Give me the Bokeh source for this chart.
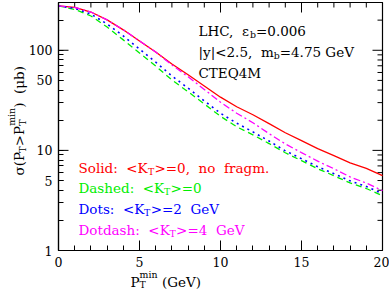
from bokeh.plotting import figure
from bokeh.models import Range1d, FixedTicker, Label
from bokeh.embed import file_html
from bokeh.resources import INLINE
import math

# ---------------- data ----------------
PT_MIN = list(range(0, 21))
SOLID = [277, 268, 241, 201, 160, 124, 96, 73, 57, 44, 34, 27.3, 22.7, 18.5, 15, 12.5, 10.4, 8.85, 7.5, 6.6, 5.6]
DASHED = [277, 256, 220, 171, 127, 94, 69.5, 50.5, 38.5, 29.1, 21.9, 17.2, 14.3, 11.7, 9.47, 7.89, 6.56, 5.58, 4.73, 4.16, 3.53]
DOTS = [277, 262, 230, 183, 139, 103, 76, 55.4, 41.8, 31.2, 23.5, 18.7, 15.3, 12.4, 9.9, 8.26, 6.87, 5.85, 4.96, 4.36, 3.70]
DOTDASH = [277, 268, 241, 201, 160, 124, 96, 71.3, 54.4, 40.6, 30.3, 23.5, 18.9, 14.7, 11.6, 9.5, 7.8, 6.56, 5.43, 4.72, 3.96]

X_MAJOR = [0, 5, 10, 15, 20]
X_MINOR = [1, 2, 3, 4, 6, 7, 8, 9, 11, 12, 13, 14, 16, 17, 18, 19]
Y_LABELLED = [1, 5, 10, 50, 100]
Y_DECADES = [1, 10, 100]
Y_MINOR = [2, 3, 4, 5, 6, 7, 8, 9, 20, 30, 40, 50, 60, 70, 80, 90, 200, 300]
X_LO, X_HI, Y_LO, Y_HI = 0, 20, 1, 300

RED, GREEN, BLUE, MAGENTA = "#ff0000", "#00ee00", "#0000ff", "#ff00ff"
FONT = "DejaVu Serif"
FS = 13.5
SP2 = " \u00a0"   # a visible double space

# ---------------- layout (canvas pixels) ----------------
W, H = 389, 291
BOX_L, BOX_R, BOX_T, BOX_B = 58, 382, 2, 250     # plotting box inside the canvas

ppx = (BOX_R - BOX_L) / (X_HI - X_LO)
ppd = (BOX_B - BOX_T) / (math.log10(Y_HI) - math.log10(Y_LO))
x_start = X_LO - BOX_L / ppx
x_end = X_HI + (W - BOX_R) / ppx
y_end = 10 ** (math.log10(Y_HI) + BOX_T / ppd)
y_start = 10 ** (math.log10(Y_LO) - (H - BOX_B) / ppd)

p = figure(width=W, height=H, x_range=Range1d(x_start, x_end), y_range=Range1d(y_start, y_end),
           y_axis_type="log", output_backend="svg", toolbar_location=None,
           min_border_left=0, min_border_right=0, min_border_top=0, min_border_bottom=0)
p.grid.visible = False
p.outline_line_color = None
p.background_fill_color = "white"
p.border_fill_color = "white"

def style_axis(ax):
    ax.axis_line_color = "black"
    ax.axis_line_width = 1.2
    ax.major_tick_line_color = "black"
    ax.minor_tick_line_color = "black"
    ax.major_tick_out = 0
    ax.minor_tick_out = 0
    ax.minor_tick_in = 5
    ax.major_label_text_font = FONT
    ax.major_label_text_color = "black"
    ax.major_label_text_font_size = "12.5px"
    ax.major_label_standoff = 6

xb = p.xaxis[0]
xb.ticker = FixedTicker(ticks=X_MAJOR, minor_ticks=X_MINOR)
xb.fixed_location = Y_LO
xb.bounds = (X_LO, X_HI)
style_axis(xb)
xb.major_tick_in = 10

yl = p.yaxis[0]
yl.ticker = FixedTicker(ticks=Y_LABELLED, minor_ticks=Y_MINOR)
yl.fixed_location = X_LO
yl.bounds = (Y_LO, Y_HI)
style_axis(yl)
yl.major_tick_in = 5

# plot box
p.quad(left=[X_LO], right=[X_HI], bottom=[Y_LO], top=[Y_HI], fill_color=None,
       line_color="black", line_width=1.2)

# long decade ticks on the left, mirrored ticks on top and right
tick = dict(length_units="screen", line_color="black", line_width=1)
p.ray(x=[X_LO] * len(Y_DECADES), y=Y_DECADES, length=10, angle=0, **tick)
p.ray(x=[X_HI] * len(Y_DECADES), y=Y_DECADES, length=10, angle=math.pi, **tick)
p.ray(x=[X_HI] * len(Y_MINOR), y=Y_MINOR, length=5, angle=math.pi, **tick)
p.ray(x=X_MAJOR, y=[Y_HI] * len(X_MAJOR), length=10, angle=-math.pi / 2, **tick)
p.ray(x=X_MINOR, y=[Y_HI] * len(X_MINOR), length=5, angle=-math.pi / 2, **tick)

# ---------------- curves ----------------
p.line(PT_MIN, SOLID, line_color=RED, line_width=1.3)
p.line(PT_MIN, DASHED, line_color=GREEN, line_width=1.3, line_dash="6 4")
p.line(PT_MIN, DOTS, line_color=BLUE, line_width=1.6, line_dash="2 4")
p.line(PT_MIN, DOTDASH, line_color=MAGENTA, line_width=1.3, line_dash="7 3 2 3")

# ---------------- rich text helper ----------------
CW = {' ': .318, '\u00a0': .318, '(': .390, ')': .390, ',': .318, '.': .318, ':': .337,
      '<': .838, '=': .838, '>': .838, '|': .337, 'C': .734, 'D': .770, 'E': .729, 'G': .807,
      'H': .873, 'K': .760, 'L': .696, 'M': .927, 'P': .672, 'Q': .807, 'S': .685, 'T': .704,
      'V': .722, 'a': .594, 'b': .640, 'd': .640, 'e': .592, 'f': .370, 'g': .640, 'h': .644,
      'i': .320, 'l': .320, 'm': .950, 'n': .644, 'o': .602, 'r': .478, 's': .513, 't': .402,
      'y': .565, 'μ': .644, 'σ': .620, 'ε': .560}
for d in "0123456789":
    CW[d] = .636

def tw(s, size):
    return sum(CW.get(c, .6) for c in s) * size

def rich(segs, x0, y0, color, size=FS, rotated=False, sub=0.28):
    pos = 0.0
    small = round(size * 0.7, 1)
    for seg in segs:
        kind = seg[0]
        if kind == "n":
            pieces = [(seg[1], size, 0.0)]
            adv = tw(seg[1], size)
        elif kind == "sub":
            pieces = [(seg[1], small, sub * size)]
            adv = tw(seg[1], small)
        else:  # stacked sub + sup
            pieces = [(seg[1], small, sub * size), (seg[2], small, -0.50 * size)]
            adv = max(tw(seg[1], small), tw(seg[2], small))
        for txt, fs, d in pieces:
            if rotated:
                px, py = x0 + d, y0 - pos
            else:
                px, py = x0 + pos, y0 + d
            p.add_layout(Label(x=X_LO, y=Y_LO, x_offset=round(px - BOX_L, 1),
                               y_offset=round(BOX_B - py, 1), text=txt, text_font=FONT,
                               text_font_size=f"{fs}px", text_color=color,
                               text_align="left", text_baseline="alphabetic",
                               angle=(math.pi / 2 if rotated else 0)))
        pos += adv

# info block
rich([("n", f"LHC,{SP2}ε"), ("sub", "b"), ("n", "=0.006")], 198, 30, "black")
rich([("n", f"|y|<2.5,{SP2}m"), ("sub", "b"), ("n", "=4.75 GeV")], 198, 51, "black")
rich([("n", "CTEQ4M")], 198, 72, "black")

# legend block
rich([("n", f"Solid:{SP2}<K"), ("sub", "T"), ("n", f">=0,{SP2}no{SP2}fragm.")], 78, 167, RED)
rich([("n", f"Dashed:{SP2}<K"), ("sub", "T"), ("n", ">=0")], 78, 187, GREEN)
rich([("n", f"Dots:{SP2}<K"), ("sub", "T"), ("n", f">=2{SP2}GeV")], 78, 208, BLUE)
rich([("n", f"Dotdash:{SP2}<K"), ("sub", "T"), ("n", f">=4{SP2}GeV")], 78, 229, MAGENTA)

# axis titles
rich([("n", "P"), ("subsup", "T", "min"), ("n", f"{SP2}(GeV)")], 130, 281, "black", sub=0.22)
rich([("n", "σ(P"), ("sub", "T"), ("n", ">P"), ("subsup", "T", "min"), ("n", f"){SP2}(μb)")],
     18, 175, "black", rotated=True)

open("out.html", "w").write(file_html(p, INLINE))
